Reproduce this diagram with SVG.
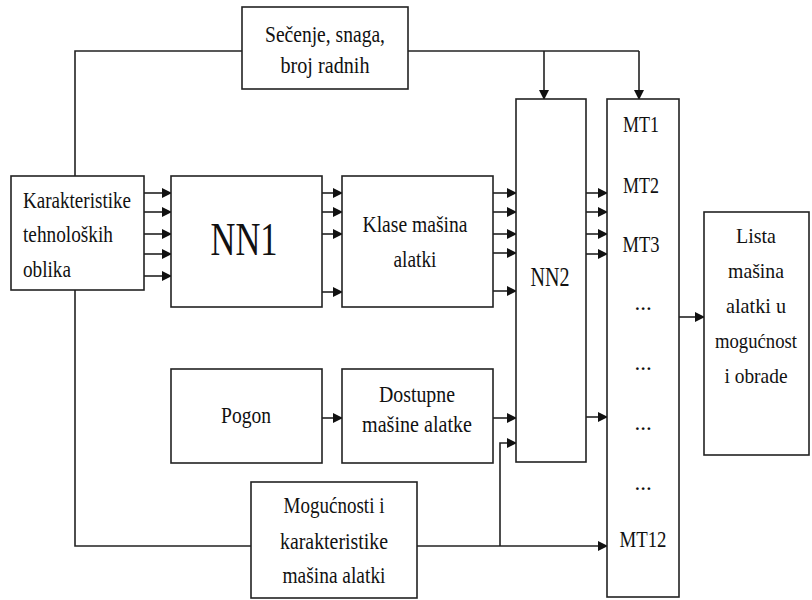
<svg xmlns="http://www.w3.org/2000/svg" width="812" height="600" viewBox="0 0 812 600">
<defs>
<marker id="ah" markerWidth="10" markerHeight="10" refX="9" refY="5" orient="auto" markerUnits="userSpaceOnUse">
<path d="M0,0 L10,5 L0,10 Z" fill="#111"/>
</marker>
<style>
.b{fill:#fff;stroke:#222;stroke-width:1.6}
.t{font-family:"Liberation Serif","DejaVu Serif",serif;font-size:23px;fill:#111;text-anchor:middle}
.s{font-size:21px}
.l{fill:none;stroke:#222;stroke-width:1.6}
.a{fill:none;stroke:#222;stroke-width:1.6;marker-end:url(#ah)}
</style>
</defs>
<rect width="812" height="600" fill="#fff"/>
<g id="connectors">
<path class="l" d="M242,51 H75 V176"/>
<path class="l" d="M75,290 V546 H251"/>
<path class="l" d="M408,51 H639"/>
<path class="a" d="M544,51 V99"/>
<path class="a" d="M639,51 V99"/>
<path class="a" d="M144,193 H171"/>
<path class="a" d="M144,212 H171"/>
<path class="a" d="M144,234 H171"/>
<path class="a" d="M144,254 H171"/>
<path class="a" d="M144,276 H171"/>
<path class="a" d="M322,193 H342"/>
<path class="a" d="M322,212 H342"/>
<path class="a" d="M322,234 H342"/>
<path class="a" d="M322,292 H342"/>
<path class="a" d="M493,193 H516"/>
<path class="a" d="M493,212 H516"/>
<path class="a" d="M493,234 H516"/>
<path class="a" d="M493,253 H516"/>
<path class="a" d="M493,291 H516"/>
<path class="a" d="M586,193 H607"/>
<path class="a" d="M586,212 H607"/>
<path class="a" d="M586,234 H607"/>
<path class="a" d="M586,254 H607"/>
<path class="a" d="M586,417 H607"/>
<path class="a" d="M679,317 H704"/>
<path class="a" d="M322,418 H342"/>
<path class="a" d="M493,418 H516"/>
<path class="a" d="M500,546 V443 H516"/>
<path class="a" d="M417,546 H607"/>
</g>
<g id="secenje">
<rect class="b" x="242" y="7" width="166" height="82"/>
<text class="t" x="325" y="42" textLength="120" lengthAdjust="spacingAndGlyphs">Sečenje, snaga,</text>
<text class="t" x="325" y="73" textLength="89" lengthAdjust="spacingAndGlyphs">broj radnih</text>
</g>
<g id="karakteristike">
<rect class="b" x="11" y="176" width="133" height="114"/>
<text class="t" x="23" y="208" style="text-anchor:start" textLength="108" lengthAdjust="spacingAndGlyphs">Karakteristike</text>
<text class="t" x="23" y="242" style="text-anchor:start" textLength="90" lengthAdjust="spacingAndGlyphs">tehnoloških</text>
<text class="t" x="23" y="277" style="text-anchor:start" textLength="48" lengthAdjust="spacingAndGlyphs">oblika</text>
</g>
<g id="nn1">
<rect class="b" x="171" y="176" width="151" height="131"/>
<text class="t" x="244" y="255" style="font-size:46px" textLength="67" lengthAdjust="spacingAndGlyphs">NN1</text>
</g>
<g id="klase">
<rect class="b" x="342" y="176" width="151" height="131"/>
<text class="t" x="415" y="232" textLength="105" lengthAdjust="spacingAndGlyphs">Klase mašina</text>
<text class="t" x="415" y="267" textLength="43" lengthAdjust="spacingAndGlyphs">alatki</text>
</g>
<g id="nn2">
<rect class="b" x="516" y="99" width="70" height="363"/>
<text class="t" x="550" y="286" style="font-size:28px" textLength="39" lengthAdjust="spacingAndGlyphs">NN2</text>
</g>
<g id="mt">
<rect class="b" x="607" y="99" width="72" height="498"/>
<text class="t" x="641" y="132" textLength="36" lengthAdjust="spacingAndGlyphs">MT1</text>
<text class="t" x="641" y="193" textLength="36" lengthAdjust="spacingAndGlyphs">MT2</text>
<text class="t" x="641" y="252" textLength="37" lengthAdjust="spacingAndGlyphs">MT3</text>
<text class="t" x="643" y="310">...</text>
<text class="t" x="643" y="370">...</text>
<text class="t" x="643" y="430">...</text>
<text class="t" x="643" y="490">...</text>
<text class="t" x="643" y="547" textLength="47" lengthAdjust="spacingAndGlyphs">MT12</text>
</g>
<g id="lista">
<rect class="b" x="704" y="212" width="105" height="243"/>
<text class="t s" x="756" y="243" textLength="40" lengthAdjust="spacingAndGlyphs">Lista</text>
<text class="t s" x="756" y="278" textLength="56" lengthAdjust="spacingAndGlyphs">mašina</text>
<text class="t s" x="756" y="313" textLength="60" lengthAdjust="spacingAndGlyphs">alatki u</text>
<text class="t s" x="756" y="348" textLength="82" lengthAdjust="spacingAndGlyphs">mogućnost</text>
<text class="t s" x="756" y="383" textLength="63" lengthAdjust="spacingAndGlyphs">i obrade</text>
</g>
<g id="pogon">
<rect class="b" x="171" y="369" width="151" height="94"/>
<text class="t" x="246" y="423" textLength="50" lengthAdjust="spacingAndGlyphs">Pogon</text>
</g>
<g id="dostupne">
<rect class="b" x="342" y="369" width="151" height="94"/>
<text class="t" x="417" y="402" textLength="76" lengthAdjust="spacingAndGlyphs">Dostupne</text>
<text class="t" x="417" y="432" textLength="110" lengthAdjust="spacingAndGlyphs">mašine alatke</text>
</g>
<g id="mogucnosti">
<rect class="b" x="251" y="482" width="166" height="116"/>
<text class="t" x="334" y="513" textLength="101" lengthAdjust="spacingAndGlyphs">Mogućnosti i</text>
<text class="t" x="334" y="549" textLength="108" lengthAdjust="spacingAndGlyphs">karakteristike</text>
<text class="t" x="334" y="583" textLength="103" lengthAdjust="spacingAndGlyphs">mašina alatki</text>
</g>
</svg>
